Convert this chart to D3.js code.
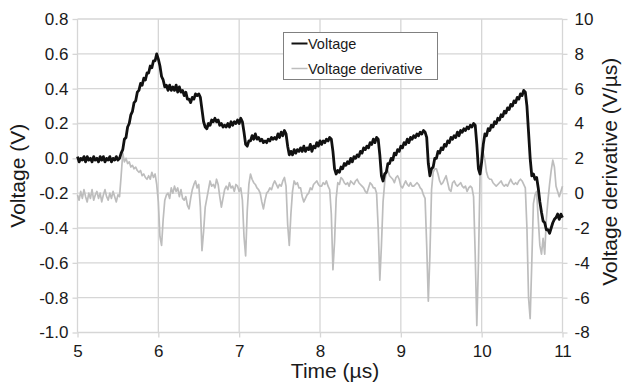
<!DOCTYPE html>
<html>
<head>
<meta charset="utf-8">
<script src="https://cdn.jsdelivr.net/npm/d3@7"></script>
<style>
  body { margin: 0; background: #fff; }
  #chart text { font-family: "Liberation Sans", Arial, Helvetica, sans-serif; fill: #1a1a1a; }
</style>
</head>
<body>
<div id="chart"></div>
<script>
// Sample times (µs), one row per 0.5 µs
const times = [
  5.00,5.02,5.04,5.06,5.08,5.10,5.12,5.14,5.16,5.18,5.20,5.22,5.24,5.26,5.28,5.30,5.32,5.34,5.36,5.38,5.40,5.42,5.44,5.46,5.48,
  5.50,5.52,5.54,5.56,5.58,5.60,5.62,5.64,5.66,5.68,5.70,5.72,5.74,5.76,5.78,5.80,5.82,5.84,5.86,5.88,5.90,5.92,5.94,5.96,5.98,
  6.00,6.02,6.04,6.06,6.08,6.10,6.12,6.14,6.16,6.18,6.20,6.22,6.24,6.26,6.28,6.30,6.32,6.34,6.36,6.38,6.40,6.42,6.44,6.46,6.48,
  6.50,6.52,6.54,6.56,6.58,6.60,6.62,6.64,6.66,6.68,6.70,6.72,6.74,6.76,6.78,6.80,6.82,6.84,6.86,6.88,6.90,6.92,6.94,6.96,6.98,
  7.00,7.02,7.04,7.06,7.08,7.10,7.12,7.14,7.16,7.18,7.20,7.22,7.24,7.26,7.28,7.30,7.32,7.34,7.36,7.38,7.40,7.42,7.44,7.46,7.48,
  7.50,7.52,7.54,7.56,7.58,7.60,7.62,7.64,7.66,7.68,7.70,7.72,7.74,7.76,7.78,7.80,7.82,7.84,7.86,7.88,7.90,7.92,7.94,7.96,7.98,
  8.00,8.02,8.04,8.06,8.08,8.10,8.12,8.14,8.16,8.18,8.20,8.22,8.24,8.26,8.28,8.30,8.32,8.34,8.36,8.38,8.40,8.42,8.44,8.46,8.48,
  8.50,8.52,8.54,8.56,8.58,8.60,8.62,8.64,8.66,8.68,8.70,8.72,8.74,8.76,8.78,8.80,8.82,8.84,8.86,8.88,8.90,8.92,8.94,8.96,8.98,
  9.00,9.02,9.04,9.06,9.08,9.10,9.12,9.14,9.16,9.18,9.20,9.22,9.24,9.26,9.28,9.30,9.32,9.34,9.36,9.38,9.40,9.42,9.44,9.46,9.48,
  9.50,9.52,9.54,9.56,9.58,9.60,9.62,9.64,9.66,9.68,9.70,9.72,9.74,9.76,9.78,9.80,9.82,9.84,9.86,9.88,9.90,9.92,9.94,9.96,9.98,
  10.00,10.02,10.04,10.06,10.08,10.10,10.12,10.14,10.16,10.18,10.20,10.22,10.24,10.26,10.28,10.30,10.32,10.34,10.36,10.38,10.40,10.42,10.44,10.46,10.48,
  10.50,10.52,10.54,10.56,10.58,10.60,10.62,10.64,10.66,10.68,10.70,10.72,10.74,10.76,10.78,10.80,10.82,10.84,10.86,10.88,10.90,10.92,10.94,10.96,10.98,
  11.00
];

// Voltage (V)
const voltage = [
  0.01,-0.02,0.00,-0.01,0.01,-0.02,0.01,-0.01,0.00,-0.02,0.01,-0.01,0.00,-0.02,0.01,-0.01,0.01,-0.02,0.00,-0.01,0.01,-0.02,0.00,-0.01,0.01,
  -0.01,0.00,0.03,0.05,0.11,0.12,0.18,0.20,0.25,0.27,0.32,0.33,0.38,0.39,0.43,0.42,0.46,0.45,0.49,0.49,0.53,0.52,0.56,0.56,0.60,
  0.57,0.53,0.47,0.45,0.41,0.42,0.39,0.42,0.39,0.41,0.39,0.42,0.38,0.41,0.38,0.39,0.36,0.38,0.34,0.34,0.32,0.35,0.34,0.37,0.36,
  0.37,0.35,0.28,0.21,0.18,0.17,0.20,0.19,0.22,0.21,0.23,0.21,0.22,0.19,0.20,0.18,0.19,0.18,0.20,0.18,0.21,0.19,0.21,0.20,0.22,
  0.20,0.23,0.21,0.15,0.08,0.07,0.10,0.10,0.13,0.11,0.14,0.11,0.12,0.10,0.11,0.09,0.10,0.09,0.11,0.10,0.12,0.11,0.12,0.11,0.14,
  0.12,0.15,0.13,0.16,0.14,0.07,0.02,0.04,0.02,0.05,0.03,0.05,0.04,0.06,0.04,0.07,0.04,0.06,0.05,0.08,0.04,0.07,0.06,0.09,0.07,
  0.10,0.08,0.10,0.09,0.11,0.10,0.12,0.11,0.04,-0.06,-0.09,-0.07,-0.08,-0.05,-0.06,-0.03,-0.04,-0.02,-0.03,0.00,-0.02,0.01,0.00,0.02,0.01,
  0.04,0.03,0.06,0.05,0.07,0.06,0.09,0.08,0.11,0.09,0.12,0.11,0.02,-0.10,-0.13,-0.09,-0.08,-0.03,-0.03,0.00,-0.01,0.03,0.02,0.05,0.04,
  0.07,0.06,0.09,0.08,0.11,0.09,0.12,0.11,0.13,0.12,0.14,0.13,0.15,0.14,0.16,0.15,0.12,-0.03,-0.10,-0.06,-0.05,0.00,0.00,0.04,0.03,
  0.06,0.05,0.08,0.07,0.10,0.09,0.12,0.11,0.13,0.12,0.15,0.13,0.16,0.15,0.17,0.16,0.18,0.17,0.19,0.18,0.20,0.19,0.08,-0.06,-0.09,
  -0.02,0.08,0.14,0.13,0.17,0.16,0.19,0.18,0.21,0.20,0.23,0.22,0.25,0.24,0.27,0.26,0.29,0.28,0.31,0.30,0.33,0.32,0.35,0.34,0.37,
  0.36,0.39,0.38,0.30,0.15,0.00,-0.10,-0.09,-0.12,-0.11,-0.17,-0.25,-0.31,-0.36,-0.37,-0.41,-0.41,-0.43,-0.40,-0.37,-0.35,-0.34,-0.32,-0.35,-0.32,
  -0.34
];

// Voltage derivative (V/µs)
const derivative = [
  -0.1,-0.4,0.1,-0.3,0.2,-0.2,-0.5,0.0,-0.3,0.2,-0.4,-0.1,0.1,-0.3,0.0,-0.5,-0.1,0.2,-0.2,-0.4,0.0,-0.3,0.1,-0.2,-0.5,
  -0.1,-0.2,1.0,2.3,1.8,2.0,1.7,1.8,1.5,1.6,1.4,1.5,1.3,1.2,1.3,1.0,1.1,0.9,0.8,1.0,0.8,1.2,0.9,1.1,0.5,
  -0.5,-2.5,-3.0,-1.5,-0.4,-0.1,0.0,-0.3,0.3,0.0,0.4,0.1,0.3,-0.2,0.2,-0.3,-0.4,-0.2,-0.7,-0.9,-0.3,0.2,0.5,0.7,0.3,
  0.5,-0.8,-3.3,-2.2,-0.8,-0.3,0.2,0.7,0.4,0.5,0.3,0.8,0.5,-0.2,-0.8,-0.3,0.2,0.4,0.2,0.6,0.3,0.4,0.1,0.5,0.4,
  0.1,0.3,-0.4,-2.5,-3.6,-1.0,0.5,1.1,0.8,0.6,0.5,0.3,0.2,0.0,-0.5,-0.9,-0.4,0.0,0.1,0.3,0.2,0.5,0.7,0.5,0.3,
  0.5,0.4,0.7,0.9,0.4,-1.8,-3.0,-1.2,0.1,0.7,0.5,0.6,0.3,0.3,-0.2,-0.5,-0.3,-0.1,0.0,0.3,0.2,0.5,0.6,0.7,0.5,
  0.4,0.4,0.6,0.5,0.7,0.4,0.2,-1.2,-4.4,-2.8,-0.3,0.6,0.5,0.9,0.8,0.6,0.5,0.6,0.4,0.7,0.6,0.5,0.7,0.8,0.6,
  0.5,0.4,0.3,0.1,0.0,0.3,0.6,0.5,0.3,0.3,0.0,-2.0,-5.0,-3.0,-0.5,0.6,1.2,1.3,1.0,0.9,0.8,0.6,0.9,1.0,0.8,
  0.4,0.3,0.5,0.7,0.5,0.4,0.6,0.4,0.4,0.5,0.6,0.5,0.3,0.2,-0.1,-0.3,-3.0,-6.2,-3.5,0.2,1.2,1.4,1.4,1.1,0.7,
  0.5,0.6,0.8,1.0,0.6,0.2,0.1,0.6,0.7,0.5,0.4,0.5,0.6,0.4,0.3,0.4,0.1,0.3,0.4,0.3,-0.2,-3.5,-7.6,-4.0,1.0,
  2.6,2.3,1.9,1.2,0.9,0.8,0.8,0.6,0.5,0.4,0.5,0.6,0.7,0.5,0.4,0.5,0.4,0.6,0.8,0.6,0.5,0.6,0.5,0.7,0.8,
  0.7,0.5,0.3,-2.0,-6.0,-7.2,-4.0,-0.6,-0.1,0.1,-1.5,-3.0,-3.5,-2.6,-3.5,-1.5,-0.4,0.5,1.3,1.9,1.5,0.4,0.1,-0.2,0.1,
  0.4
];

const timeTicks = [5, 6, 7, 8, 9, 10, 11];
const voltageTicks = [-1.0, -0.8, -0.6, -0.4, -0.2, 0.0, 0.2, 0.4, 0.6, 0.8];
const derivativeTicks = [-8, -6, -4, -2, 0, 2, 4, 6, 8, 10];
const seriesNames = ["Voltage", "Voltage derivative"];
const seriesColors = ["#111111", "#bdbdbd"];
const xTitle = "Time (µs)";
const yLeftTitle = "Voltage (V)";
const yRightTitle = "Voltage derivative (V/µs)";

const width = 625;
const height = 386;
const margins = {top: 19, right: 62.5, bottom: 53.5, left: 77.5};
const plotRight = width - margins.right;
const plotBottom = height - margins.bottom;
const gridColor = "#d6d6d6";

const svg = d3.select("#chart")
  .append("svg")
  .attr("width", width)
  .attr("height", height);

//Scales: one time axis, two value axes sharing the same plot height
const x = d3.scaleLinear().domain([5, 11]).range([margins.left, plotRight]);
const yV = d3.scaleLinear().domain([-1.0, 0.8]).range([plotBottom, margins.top]);
const yD = d3.scaleLinear().domain([-8, 10]).range([plotBottom, margins.top]);

//Gridlines
svg.append("g")
  .selectAll("line")
  .data(timeTicks)
  .enter()
  .append("line")
  .attr("x1", d => x(d)).attr("x2", d => x(d))
  .attr("y1", margins.top).attr("y2", plotBottom)
  .attr("stroke", gridColor).attr("stroke-width", 1.3);

svg.append("g")
  .selectAll("line")
  .data(voltageTicks)
  .enter()
  .append("line")
  .attr("x1", margins.left).attr("x2", plotRight)
  .attr("y1", d => yV(d)).attr("y2", d => yV(d))
  .attr("stroke", gridColor).attr("stroke-width", 1.3);

//Axes
function styleAxis(g) {
  g.select(".domain").remove();
  g.selectAll(".tick line").attr("stroke", gridColor).attr("stroke-width", 1.3);
  g.selectAll(".tick text").style("font-size", "17px");
}

svg.append("g")
  .attr("transform", "translate(0," + plotBottom + ")")
  .call(d3.axisBottom(x).tickValues(timeTicks).tickSize(5).tickPadding(7).tickFormat(d => String(d)))
  .call(styleAxis);

svg.append("g")
  .attr("transform", "translate(" + margins.left + ",0)")
  .call(d3.axisLeft(yV).tickValues(voltageTicks).tickSize(5).tickPadding(4).tickFormat(d => d.toFixed(1)))
  .call(styleAxis);

svg.append("g")
  .attr("transform", "translate(" + plotRight + ",0)")
  .call(d3.axisRight(yD).tickValues(derivativeTicks).tickSize(5).tickPadding(7).tickFormat(d => String(d)))
  .call(styleAxis);

//Axis titles
svg.append("text")
  .attr("x", 335).attr("y", 378)
  .attr("text-anchor", "middle")
  .style("font-size", "21px")
  .text(xTitle);

svg.append("text")
  .attr("transform", "translate(25," + ((margins.top + plotBottom) / 2) + ") rotate(-90)")
  .attr("text-anchor", "middle")
  .style("font-size", "21px")
  .text(yLeftTitle);

svg.append("text")
  .attr("transform", "translate(617," + ((margins.top + plotBottom) / 2 - 4) + ") rotate(-90)")
  .attr("text-anchor", "middle")
  .style("font-size", "21px")
  .text(yRightTitle);

//Traces: derivative first so the voltage sits on top
const derivLine = d3.line()
  .x((d, i) => x(times[i]))
  .y(d => yD(d));

const voltLine = d3.line()
  .x((d, i) => x(times[i]))
  .y(d => yV(d));

svg.append("path")
  .datum(derivative)
  .attr("fill", "none")
  .attr("stroke", seriesColors[1])
  .attr("stroke-width", 1.7)
  .attr("stroke-linejoin", "round")
  .attr("d", derivLine);

//The scope trace is noisy, so it reads as a thick band
svg.append("path")
  .datum(voltage)
  .attr("fill", "none")
  .attr("stroke", seriesColors[0])
  .attr("stroke-width", 2.8)
  .attr("stroke-linejoin", "round")
  .attr("d", voltLine);

//Legend
const legend = svg.append("g").attr("transform", "translate(283.5,32.5)");

legend.append("rect")
  .attr("width", 154)
  .attr("height", 47)
  .attr("fill", "#fff")
  .attr("stroke", "#808080")
  .attr("stroke-width", 1);

const entries = legend.selectAll("g.entry")
  .data(seriesNames)
  .enter()
  .append("g")
  .attr("class", "entry")
  .attr("transform", (d, i) => "translate(0," + (11 + i * 25) + ")");

entries.append("line")
  .attr("x1", 8).attr("x2", 24)
  .attr("stroke", (d, i) => seriesColors[i])
  .attr("stroke-width", (d, i) => i === 0 ? 2 : 1.5);

entries.append("text")
  .attr("x", 24.5)
  .attr("dy", "0.35em")
  .style("font-size", "14.5px")
  .text(d => d);
</script>
</body>
</html>
